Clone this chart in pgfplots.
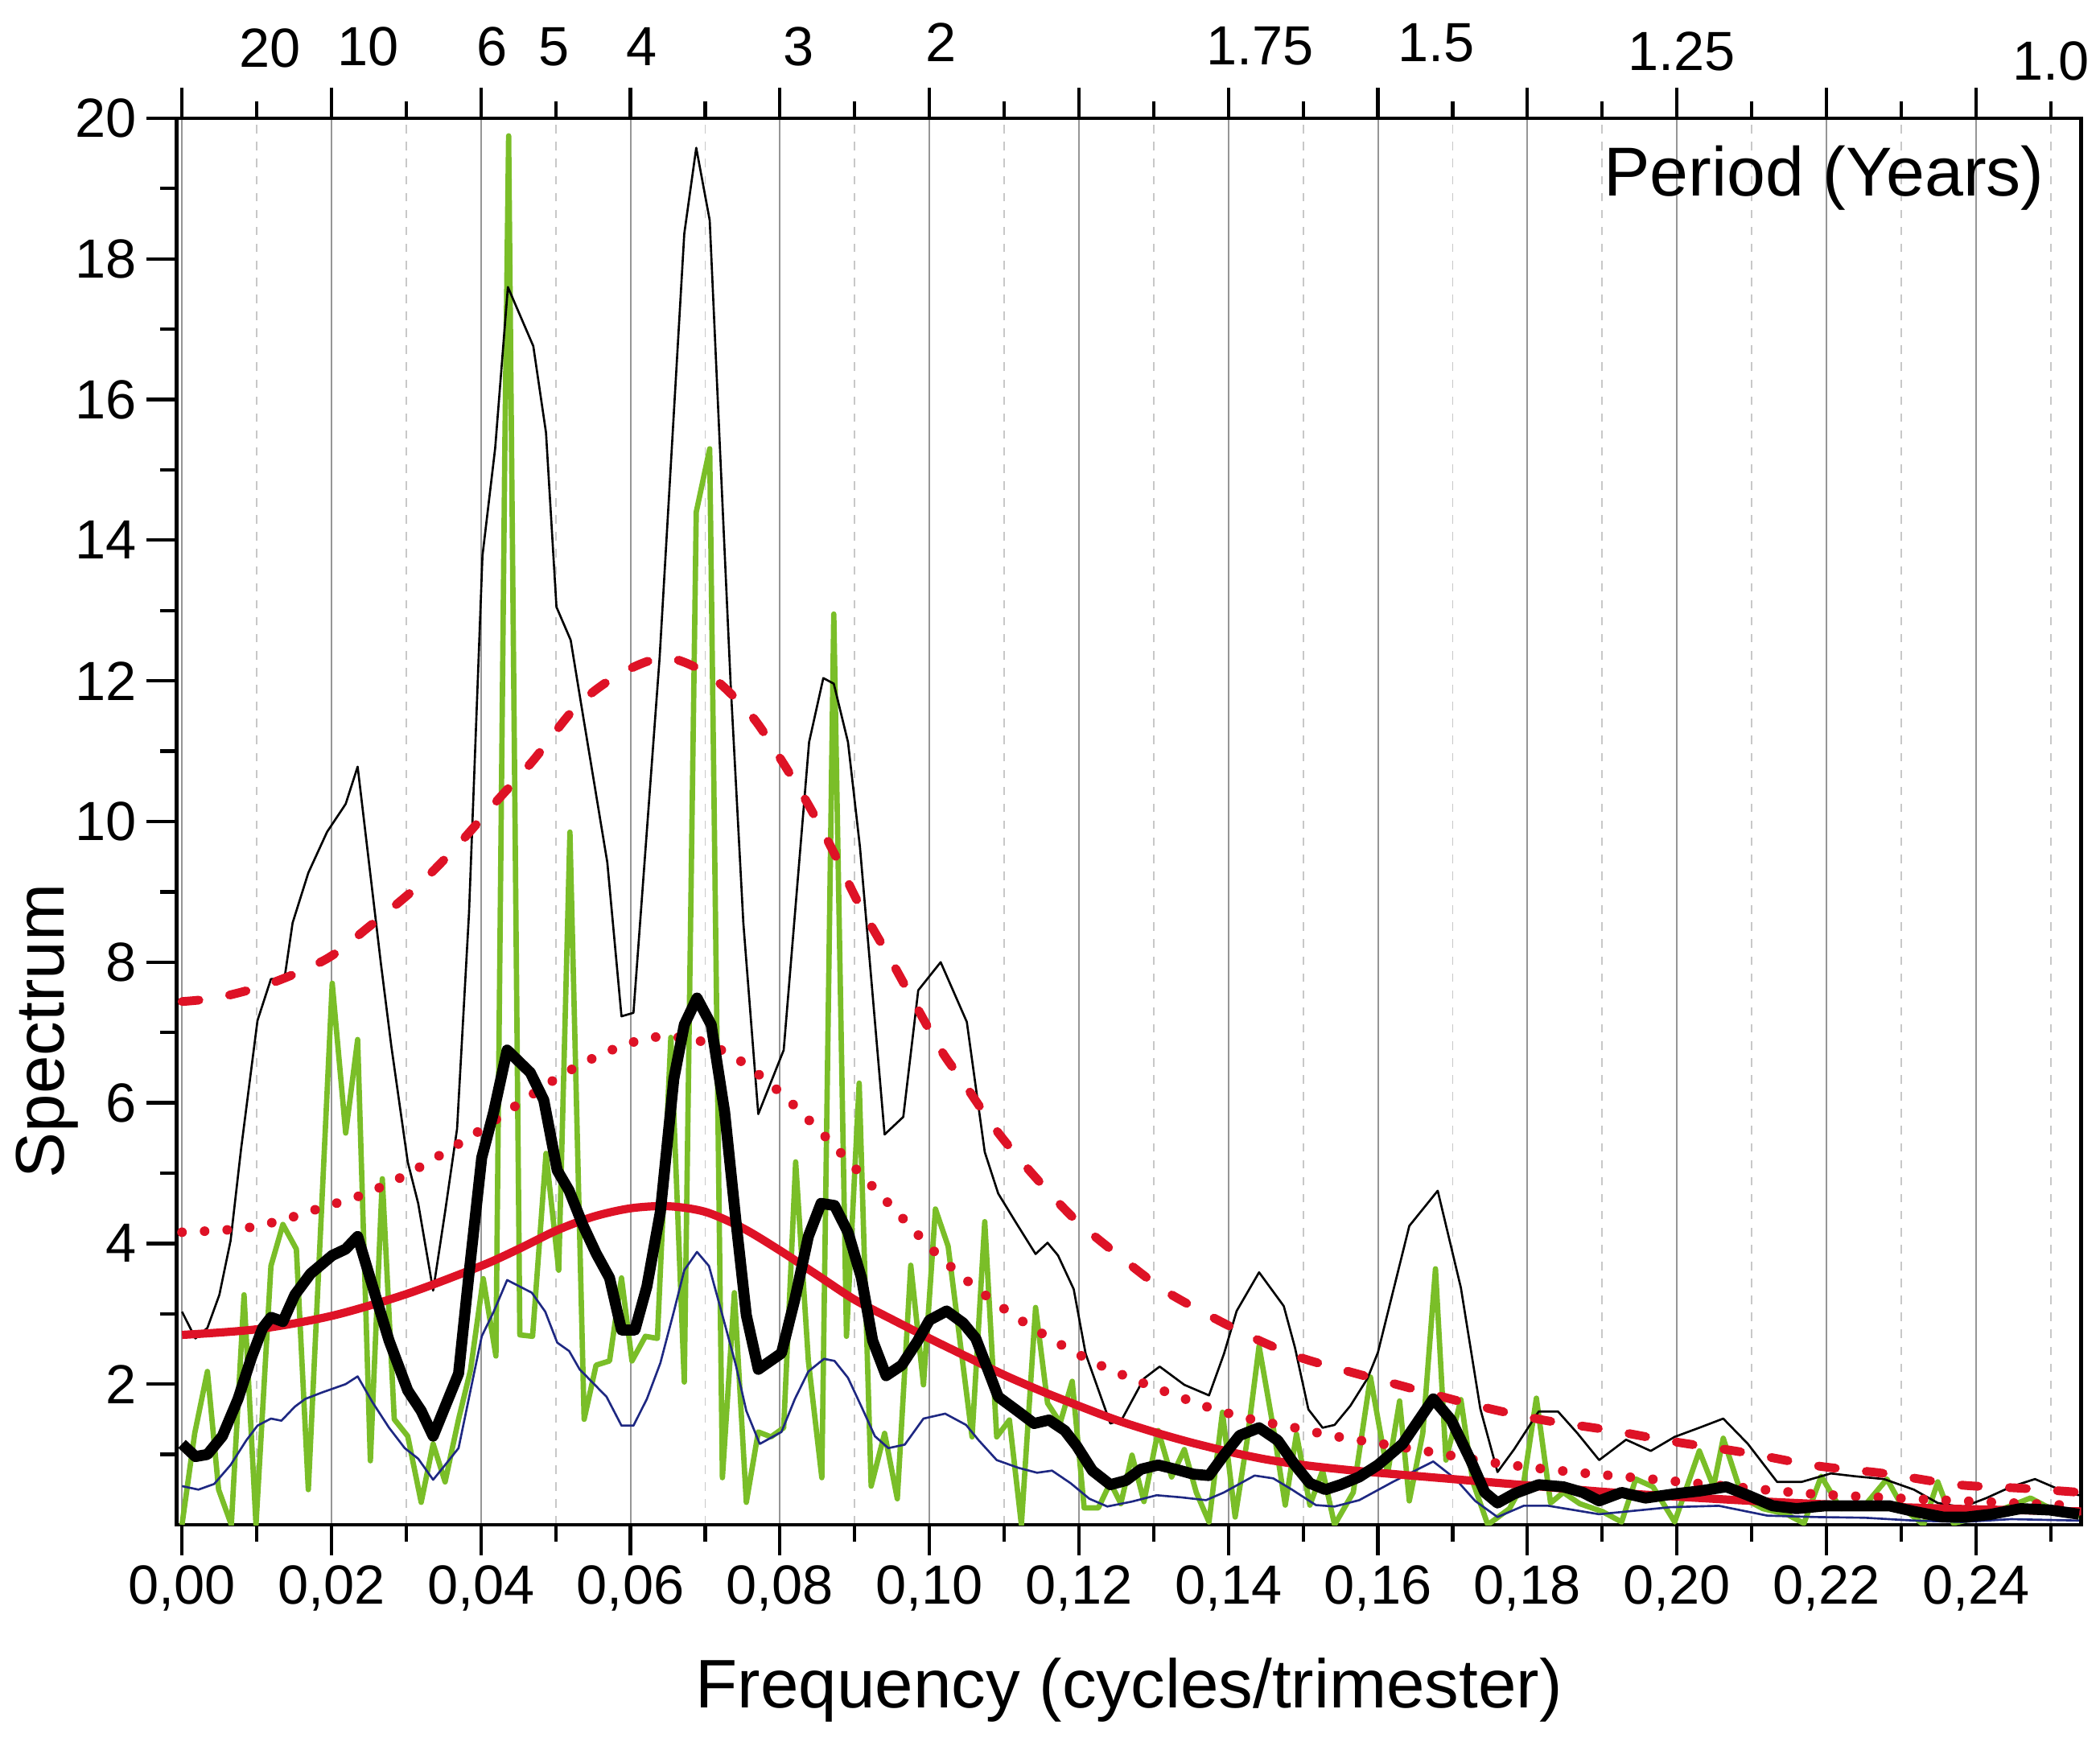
\documentclass[border=0pt]{standalone}
\usepackage{fontspec}
\setmainfont{Liberation Sans}
\usepackage{pgfplots}
\pgfplotsset{compat=1.18}
\definecolor{cgreen}{RGB}{122,190,40}
\definecolor{cred}{RGB}{222,18,38}
\definecolor{cblue}{RGB}{30,40,130}
\definecolor{cgrid}{RGB}{150,150,150}
\definecolor{cgridm}{RGB}{200,200,200}
\newcommand{\tfont}{\fontsize{19.5}{23}\selectfont}
\begin{document}
\begin{tikzpicture}
\begin{axis}[name=ax, scale only axis, width=23.67cm, height=17.48cm,
 xmin=-0.0007, xmax=0.2541, ymin=0, ymax=20,
 xtick={0,0.02,0.04,0.06,0.08,0.10,0.12,0.14,0.16,0.18,0.20,0.22,0.24},
 minor xtick={0.01,0.03,0.05,0.07,0.09,0.11,0.13,0.15,0.17,0.19,0.21,0.23,0.25},
 ytick={2,4,6,8,10,12,14,16,18,20},
 minor ytick={1,3,5,7,9,11,13,15,17,19},
 xtick pos=both, ytick pos=left, xticklabel pos=lower,
 tick align=outside,
 major tick length=10.8pt, minor tick length=6pt,
 tick style={black, line width=1.2pt},
 axis line style={line width=1.3pt},
 xmajorgrids, xminorgrids,
 major grid style={cgrid, line width=0.6pt, solid},
 minor grid style={cgridm, line width=0.5pt, dash pattern=on 3pt off 3pt},
 xticklabel style={/pgf/number format/.cd, fixed, fixed zerofill, precision=2, use comma},
 /pgf/number format/assume math mode=true,
 tick label style={font=\tfont},
 label style={font=\fontsize{24.3}{28}\selectfont},
 xlabel={Frequency (cycles/trimester)},
 ylabel={Spectrum},
 xlabel style={at={(axis description cs:0.5,-0.1304)}, anchor=base},
 ylabel style={at={(axis description cs:-0.0594,0.351)}, anchor=base},
 clip mode=individual,
]
% raw periodogram (green)
\addplot[cgreen, line width=1.9pt, line join=round] coordinates {
(0.0000,0.00)(0.0017,1.30)(0.0034,2.18)(0.0049,0.50)(0.0066,0.00)(0.0083,3.27)
(0.0099,0.00)(0.0119,3.68)(0.0135,4.27)(0.0153,3.92)(0.0169,0.50)(0.0201,7.70)
(0.0219,5.57)(0.0235,6.90)(0.0252,0.91)(0.0268,4.92)(0.0284,1.50)(0.0302,1.26)
(0.0320,0.32)(0.0336,1.15)(0.0352,0.61)(0.0370,1.50)(0.0386,2.20)(0.0403,3.50)
(0.0420,2.40)(0.0432,15.40)(0.0437,19.75)(0.0452,2.70)(0.0469,2.68)(0.0487,5.28)
(0.0504,3.62)(0.0519,9.85)(0.0538,1.50)(0.0554,2.27)(0.0572,2.33)(0.0588,3.51)
(0.0602,2.33)(0.0620,2.68)(0.0636,2.65)(0.0654,6.93)(0.0672,2.03)(0.0688,14.40)
(0.0706,15.30)(0.0723,0.67)(0.0739,3.30)(0.0755,0.32)(0.0771,1.32)(0.0788,1.25)
(0.0805,1.38)(0.0821,5.16)(0.0838,2.33)(0.0856,0.67)(0.0872,12.95)(0.0889,2.68)
(0.0906,6.28)(0.0922,0.55)(0.0940,1.30)(0.0957,0.37)(0.0975,3.69)(0.0992,1.99)
(0.1008,4.49)(0.1025,3.96)(0.1041,2.60)(0.1057,1.25)(0.1074,4.31)(0.1090,1.25)
(0.1107,1.49)(0.1123,0.00)(0.1142,3.09)(0.1158,1.73)(0.1175,1.45)(0.1191,2.04)
(0.1207,0.24)(0.1226,0.24)(0.1242,0.60)(0.1256,0.30)(0.1271,0.99)(0.1287,0.33)
(0.1306,1.34)(0.1324,0.68)(0.1341,1.07)(0.1357,0.46)(0.1374,0.04)(0.1392,1.60)
(0.1409,0.11)(0.1425,1.20)(0.1441,2.54)(0.1460,1.38)(0.1476,0.28)(0.1491,1.29)
(0.1509,0.28)(0.1526,0.77)(0.1542,0.00)(0.1567,0.46)(0.1590,2.10)(0.1613,0.73)
(0.1629,1.76)(0.1642,0.34)(0.1660,1.30)(0.1677,3.64)(0.1691,0.92)(0.1711,1.78)
(0.1727,0.61)(0.1747,0.00)(0.1776,0.23)(0.1795,0.60)(0.1812,1.80)(0.1831,0.31)
(0.1848,0.46)(0.1870,0.30)(0.1900,0.19)(0.1926,0.04)(0.1945,0.65)(0.1968,0.54)
(0.1997,0.04)(0.2030,1.05)(0.2049,0.54)(0.2062,1.23)(0.2088,0.38)(0.2115,0.23)
(0.2147,0.15)(0.2170,0.02)(0.2193,0.69)(0.2219,0.23)(0.2251,0.27)(0.2281,0.65)
(0.2303,0.23)(0.2330,0.00)(0.2349,0.61)(0.2370,0.02)(0.2400,0.10)(0.2430,0.20)
(0.2473,0.38)(0.2500,0.23)(0.2538,0.11)};
% upper thin black
\addplot[black, line width=0.75pt, line join=round] coordinates {
(0.0000,3.03)(0.0018,2.65)(0.0034,2.80)(0.0050,3.27)(0.0065,4.04)(0.0079,5.34)
(0.0101,7.17)(0.0119,7.76)(0.0137,7.76)(0.0148,8.56)(0.0169,9.27)(0.0194,9.85)
(0.0219,10.25)(0.0235,10.78)(0.0266,7.99)(0.0280,6.81)(0.0302,5.16)(0.0316,4.57)
(0.0336,3.33)(0.0352,4.45)(0.0368,5.63)(0.0384,8.70)(0.0402,13.78)(0.0419,15.31)
(0.0436,17.60)(0.0470,16.76)(0.0487,15.53)(0.0501,13.05)(0.0520,12.58)(0.0534,11.67)
(0.0569,9.42)(0.0588,7.23)(0.0604,7.28)(0.0639,12.33)(0.0672,18.36)(0.0688,19.58)
(0.0706,18.55)(0.0720,15.24)(0.0734,11.96)(0.0751,8.56)(0.0771,5.84)(0.0805,6.75)
(0.0839,11.13)(0.0858,12.04)(0.0872,11.96)(0.0891,11.13)(0.0907,9.64)(0.0940,5.55)
(0.0965,5.80)(0.0985,7.60)(0.1015,8.00)(0.1050,7.15)(0.1074,5.30)(0.1092,4.71)
(0.1115,4.31)(0.1142,3.85)(0.1158,4.01)(0.1172,3.83)(0.1193,3.35)(0.1209,2.43)
(0.1242,1.44)(0.1257,1.49)(0.1287,2.08)(0.1308,2.25)(0.1341,1.99)(0.1374,1.84)
(0.1394,2.43)(0.1411,3.04)(0.1441,3.59)(0.1474,3.11)(0.1489,2.52)(0.1507,1.64)
(0.1526,1.38)(0.1542,1.42)(0.1563,1.69)(0.1586,2.08)(0.1600,2.45)(0.1642,4.25)
(0.1680,4.75)(0.1711,3.37)(0.1737,1.65)(0.1760,0.75)(0.1782,1.07)(0.1815,1.61)
(0.1841,1.61)(0.1867,1.30)(0.1896,0.92)(0.1932,1.21)(0.1965,1.05)(0.1997,1.25)
(0.2030,1.38)(0.2062,1.51)(0.2095,1.15)(0.2134,0.61)(0.2167,0.61)(0.2206,0.73)
(0.2238,0.69)(0.2277,0.65)(0.2317,0.50)(0.2349,0.31)(0.2382,0.25)(0.2414,0.38)
(0.2447,0.54)(0.2479,0.65)(0.2512,0.50)(0.2538,0.42)};
% lower thin blue
\addplot[cblue, line width=0.75pt, line join=round] coordinates {
(0.0000,0.55)(0.0022,0.50)(0.0043,0.58)(0.0065,0.85)(0.0086,1.20)(0.0101,1.41)
(0.0119,1.51)(0.0133,1.48)(0.0151,1.68)(0.0165,1.79)(0.0187,1.88)(0.0219,2.00)
(0.0235,2.11)(0.0255,1.74)(0.0277,1.38)(0.0298,1.09)(0.0316,0.94)(0.0336,0.64)
(0.0352,0.85)(0.0370,1.09)(0.0401,2.68)(0.0417,3.03)(0.0435,3.48)(0.0468,3.30)
(0.0486,3.03)(0.0502,2.59)(0.0518,2.47)(0.0532,2.21)(0.0568,1.82)(0.0588,1.41)
(0.0604,1.41)(0.0622,1.79)(0.0640,2.30)(0.0658,3.03)(0.0672,3.62)(0.0689,3.88)
(0.0705,3.68)(0.0723,2.98)(0.0741,2.27)(0.0755,1.62)(0.0773,1.15)(0.0802,1.32)
(0.0820,1.79)(0.0838,2.18)(0.0859,2.36)(0.0873,2.33)(0.0891,2.09)(0.0909,1.68)
(0.0927,1.26)(0.0945,1.09)(0.0967,1.14)(0.0992,1.51)(0.1021,1.58)(0.1049,1.42)
(0.1066,1.20)(0.1090,0.92)(0.1119,0.81)(0.1144,0.74)(0.1164,0.77)(0.1189,0.59)
(0.1214,0.37)(0.1238,0.26)(0.1271,0.33)(0.1304,0.42)(0.1337,0.39)(0.1370,0.35)
(0.1394,0.46)(0.1435,0.70)(0.1460,0.66)(0.1485,0.50)(0.1517,0.28)(0.1542,0.26)
(0.1575,0.35)(0.1620,0.61)(0.1674,0.90)(0.1704,0.65)(0.1730,0.34)(0.1760,0.11)
(0.1795,0.27)(0.1828,0.27)(0.1896,0.15)(0.1991,0.25)(0.2056,0.27)(0.2121,0.13)
(0.2186,0.11)(0.2251,0.10)(0.2317,0.06)(0.2382,0.04)(0.2447,0.08)(0.2538,0.06)};
% red dotted
\addplot[cred, line width=3.4pt, line cap=round, dash pattern=on 0pt off 8pt, smooth] coordinates {
(0,4.16)(0.0079,4.21)(0.0133,4.33)(0.0187,4.51)(0.0241,4.69)(0.0295,4.95)
(0.0349,5.28)(0.0402,5.63)(0.0455,6.02)(0.0509,6.40)(0.0561,6.69)(0.0615,6.90)
(0.0650,6.94)(0.0696,6.87)(0.0748,6.59)(0.0802,6.13)(0.0856,5.57)(0.0906,5.01)
(0.0956,4.45)(0.1008,3.87)(0.1062,3.37)(0.1115,2.96)(0.1168,2.61)(0.1222,2.30)
(0.1275,2.06)(0.1329,1.84)(0.1382,1.64)(0.1435,1.49)(0.1489,1.38)(0.1542,1.26)
(0.1652,1.07)(0.1756,0.88)(0.1861,0.75)(0.1965,0.65)(0.2076,0.54)(0.2180,0.44)
(0.2291,0.38)(0.2401,0.33)(0.2541,0.27)};
% red dashed
\addplot[cred, line width=3.1pt, line cap=round, dash pattern=on 6pt off 11pt, smooth] coordinates {
(0,7.44)(0.0050,7.50)(0.0119,7.70)(0.0194,8.05)(0.0252,8.52)(0.0313,9.06)
(0.0367,9.64)(0.0421,10.29)(0.0470,10.87)(0.0528,11.64)(0.0586,12.10)(0.0647,12.33)
(0.0707,12.07)(0.0763,11.49)(0.0802,10.87)(0.0839,10.22)(0.0872,9.56)(0.0905,8.84)
(0.0950,8.00)(0.1012,6.81)(0.1043,6.33)(0.1088,5.63)(0.1136,5.01)(0.1193,4.36)
(0.1253,3.83)(0.1312,3.35)(0.1370,3.00)(0.1431,2.67)(0.1493,2.39)(0.1554,2.20)
(0.1613,2.03)(0.1730,1.70)(0.1821,1.49)(0.1913,1.34)(0.1991,1.19)(0.2089,1.03)
(0.2186,0.84)(0.2277,0.73)(0.2375,0.57)(0.2460,0.52)(0.2541,0.46)};
% red solid
\addplot[cred, line width=2.9pt, smooth] coordinates {
(0,2.70)(0.01,2.78)(0.02,2.97)(0.03,3.28)(0.04,3.68)(0.045,3.92)(0.05,4.18)
(0.055,4.38)(0.06,4.50)(0.065,4.53)(0.07,4.45)(0.075,4.22)(0.08,3.90)(0.085,3.55)
(0.09,3.20)(0.095,2.92)(0.10,2.65)(0.105,2.39)(0.11,2.13)(0.115,1.90)(0.12,1.69)
(0.125,1.49)(0.13,1.32)(0.135,1.17)(0.14,1.04)(0.145,0.93)(0.15,0.85)(0.155,0.79)
(0.16,0.74)(0.17,0.65)(0.18,0.56)(0.19,0.47)(0.20,0.40)(0.21,0.34)(0.22,0.29)
(0.23,0.25)(0.24,0.22)(0.2541,0.19)};
% smoothed spectrum (thick black)
\addplot[black, line width=3.9pt, line join=round] coordinates {
(0.0000,1.15)(0.0018,0.97)(0.0034,1.00)(0.0054,1.26)(0.0075,1.79)(0.0093,2.38)
(0.0108,2.80)(0.0119,2.95)(0.0135,2.89)(0.0151,3.27)(0.0172,3.57)(0.0201,3.83)
(0.0219,3.92)(0.0235,4.10)(0.0255,3.39)(0.0277,2.62)(0.0302,1.91)(0.0320,1.62)
(0.0336,1.26)(0.0352,1.68)(0.0370,2.15)(0.0384,3.57)(0.0401,5.22)(0.0417,5.87)
(0.0435,6.75)(0.0466,6.43)(0.0484,6.04)(0.0502,5.04)(0.0518,4.75)(0.0536,4.27)
(0.0554,3.86)(0.0572,3.51)(0.0588,2.77)(0.0606,2.77)(0.0622,3.39)(0.0640,4.45)
(0.0658,6.34)(0.0672,7.11)(0.0689,7.49)(0.0708,7.11)(0.0726,5.87)(0.0741,4.33)
(0.0755,2.98)(0.0771,2.21)(0.0802,2.44)(0.0820,3.21)(0.0838,4.10)(0.0855,4.57)
(0.0873,4.54)(0.0891,4.16)(0.0909,3.51)(0.0924,2.62)(0.0942,2.12)(0.0963,2.27)
(0.0984,2.61)(0.1000,2.91)(0.1023,3.04)(0.1045,2.87)(0.1062,2.65)(0.1078,2.21)
(0.1092,1.82)(0.1115,1.64)(0.1140,1.44)(0.1160,1.49)(0.1181,1.34)(0.1197,1.12)
(0.1218,0.77)(0.1242,0.57)(0.1263,0.63)(0.1283,0.79)(0.1306,0.85)(0.1329,0.79)
(0.1353,0.72)(0.1374,0.70)(0.1394,0.99)(0.1415,1.27)(0.1441,1.38)(0.1466,1.20)
(0.1489,0.85)(0.1509,0.59)(0.1530,0.50)(0.1550,0.57)(0.1575,0.68)(0.1600,0.85)
(0.1633,1.15)(0.1674,1.79)(0.1698,1.49)(0.1724,0.92)(0.1743,0.46)(0.1760,0.31)
(0.1782,0.44)(0.1815,0.57)(0.1848,0.54)(0.1874,0.46)(0.1896,0.34)(0.1926,0.46)
(0.1958,0.38)(0.1997,0.44)(0.2030,0.48)(0.2066,0.54)(0.2095,0.42)(0.2128,0.27)
(0.2160,0.23)(0.2199,0.27)(0.2238,0.27)(0.2284,0.27)(0.2317,0.19)(0.2356,0.11)
(0.2388,0.11)(0.2421,0.15)(0.2460,0.23)(0.2499,0.21)(0.2538,0.15)};
% period labels on the top axis
\node[anchor=base, yshift=18.2pt, font=\tfont] at (axis cs:0.0118,20) {20};
\node[anchor=base, yshift=18.5pt, font=\tfont] at (axis cs:0.0249,20) {10};
\node[anchor=base, yshift=18.5pt, font=\tfont] at (axis cs:0.0415,20) {6};
\node[anchor=base, yshift=18.5pt, font=\tfont] at (axis cs:0.0498,20) {5};
\node[anchor=base, yshift=18.5pt, font=\tfont] at (axis cs:0.0615,20) {4};
\node[anchor=base, yshift=18.5pt, font=\tfont] at (axis cs:0.0825,20) {3};
\node[anchor=base, yshift=20pt, font=\tfont] at (axis cs:0.1015,20) {2};
\node[anchor=base, yshift=19pt, font=\tfont] at (axis cs:0.1442,20) {1.75};
\node[anchor=base, yshift=20pt, font=\tfont] at (axis cs:0.1678,20) {1.5};
\node[anchor=base, yshift=17pt, font=\tfont] at (axis cs:0.2006,20) {1.25};
\node[anchor=base, yshift=13.4pt, font=\tfont] at (axis cs:0.2500,20) {1.0};
\node[anchor=base east, inner sep=0pt, font=\fontsize{24.5}{29}\selectfont] at (axis cs:0.2492,18.90) {Period (Years)};
\end{axis}
\pgfresetboundingbox
\path[use as bounding box] ([xshift=-2.197cm, yshift=-2.64cm]ax.south west) rectangle ++(26.1cm,21.59cm);
\end{tikzpicture}
\end{document}
